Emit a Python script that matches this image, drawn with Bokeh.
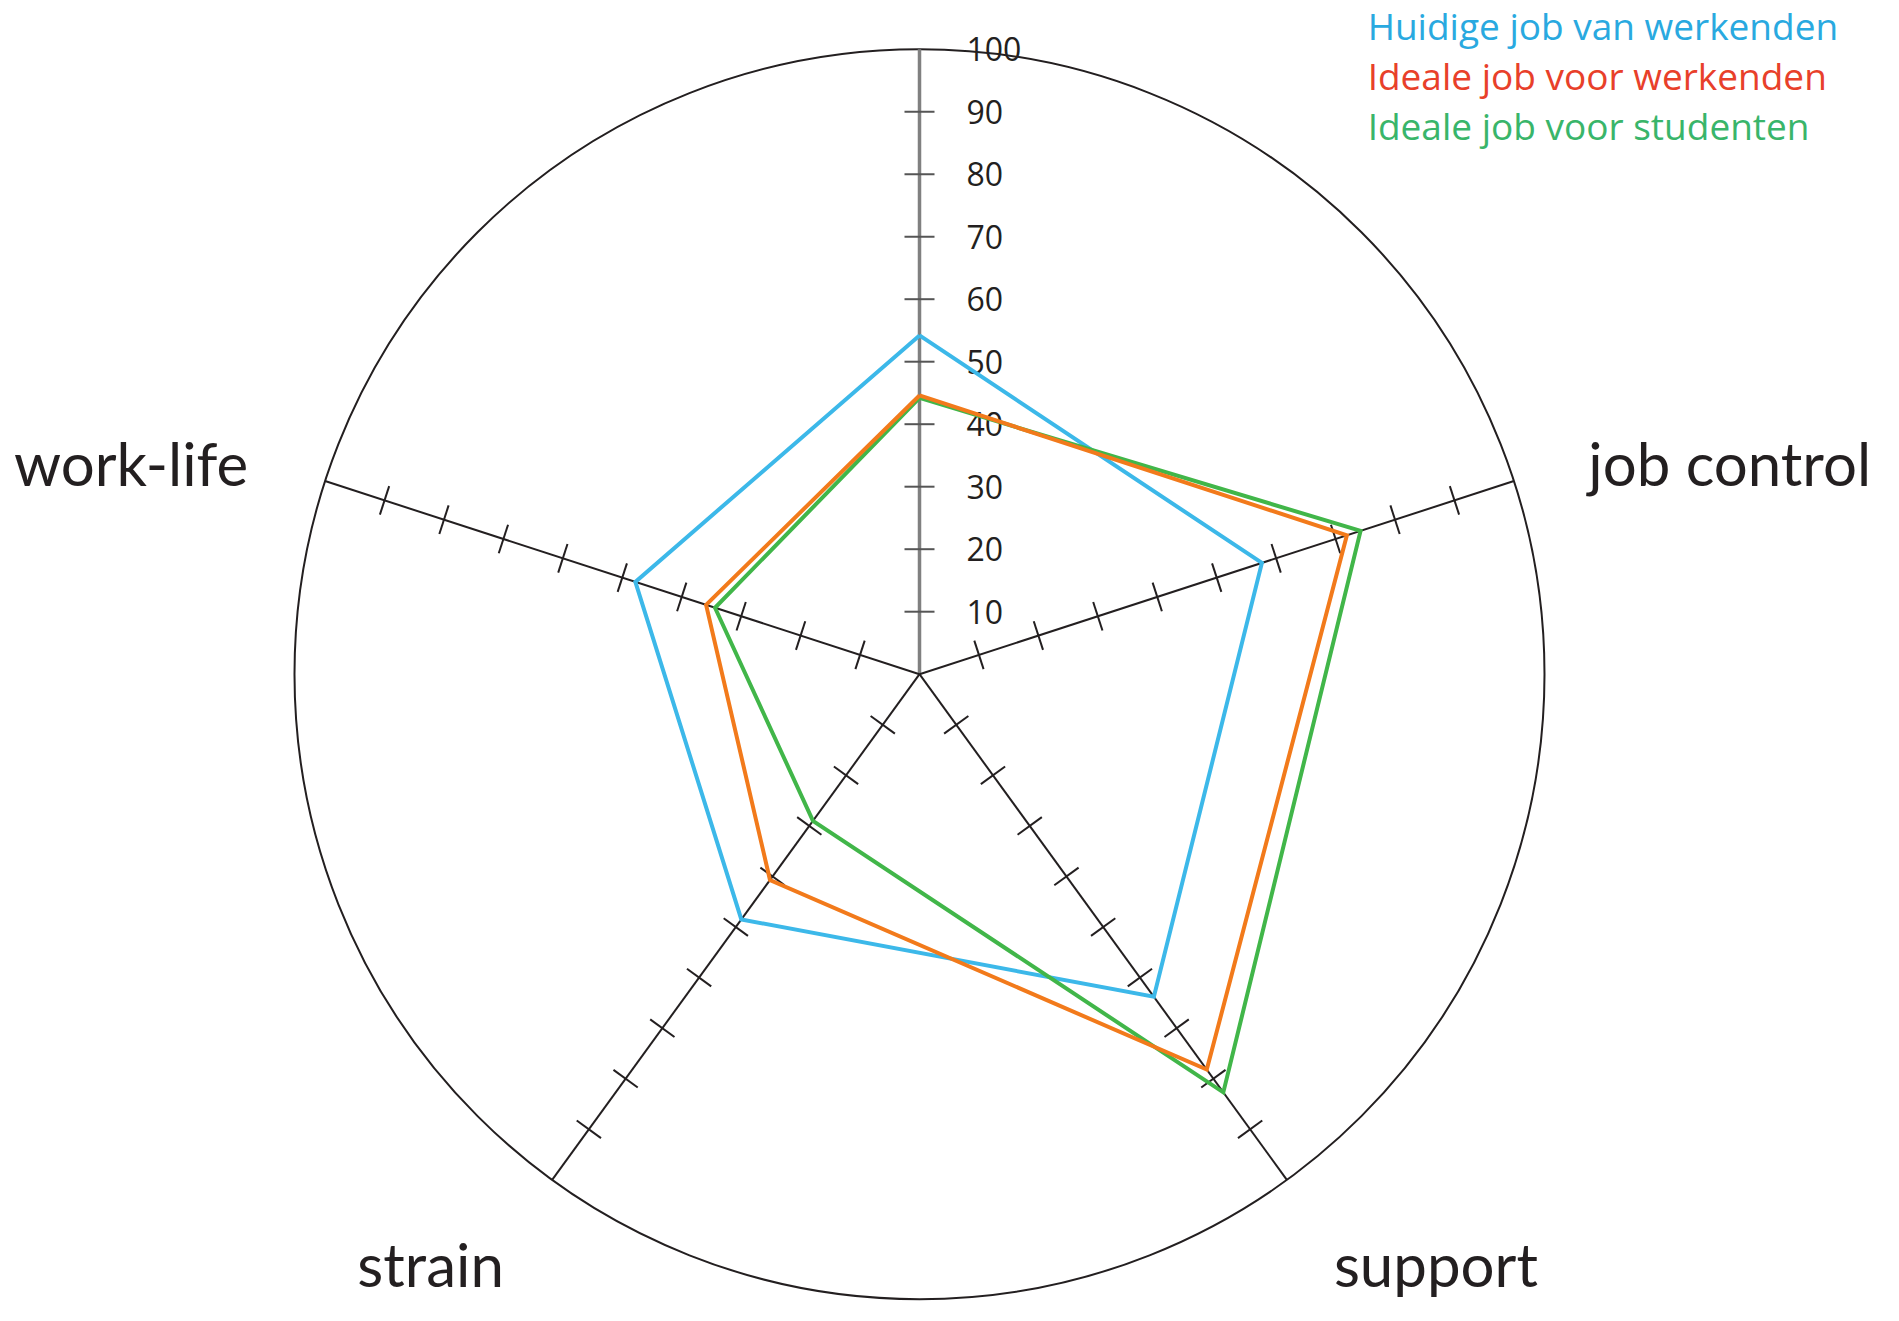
import numpy as np
from bokeh.plotting import figure
from bokeh.models import Range1d
from bokeh.core.properties import value
from bokeh.embed import file_html
from bokeh.resources import INLINE

# ---------------- data ----------------
categories = ["", "job control", "support", "strain", "work-life"]
huidige_werkenden = [54.2, 57.6, 63.8, 48.5, 47.8]
ideale_werkenden = [44.6, 71.9, 78.2, 40.7, 35.9]
ideale_studenten = [44.2, 74.2, 82.7, 29.0, 34.4]
series_names = ["Huidige job van werkenden", "Ideale job voor werkenden", "Ideale job voor studenten"]
tick_values = [10, 20, 30, 40, 50, 60, 70, 80, 90, 100]
tick_labels = ["10", "20", "30", "40", "50", "60", "70", "80", "90", "100"]
max_value = 100

# ---------------- layout ----------------
W, H = 1883, 1305
PX = 6.25                 # pixels per value unit
CX, CY = 919, 673.7       # center in canvas pixels (from top-left)
p = figure(width=W, height=H, output_backend="svg", toolbar_location=None,
           x_range=Range1d(-CX / PX, (W - CX) / PX),
           y_range=Range1d(-(H - CY) / PX, CY / PX),
           min_border=0, outline_line_color=None)
p.axis.visible = False
p.grid.visible = False
p.background_fill_color = "white"

n = len(categories)
theta = np.deg2rad(90 - 72 * np.arange(n))
ux, uy = np.cos(theta), np.sin(theta)

# outer circle
p.circle(x=[0], y=[0], radius=max_value, fill_color=None, line_color="#231F20", line_width=2)

# spokes
for i in range(n):
    col = "#808080" if i == 0 else "#231F20"
    lw = 3.5 if i == 0 else 2
    p.line([0, max_value * ux[i]], [0, max_value * uy[i]], line_color=col, line_width=lw)

# ticks (perpendicular)
half = 15 / PX
tv = np.array(tick_values[:-1], dtype=float)
for i in range(n):
    px_, py_ = -uy[i], ux[i]
    bx, by = tv * ux[i], tv * uy[i]
    col = "#555555" if i == 0 else "#231F20"
    p.segment(x0=bx - half * px_, y0=by - half * py_, x1=bx + half * px_, y1=by + half * py_,
              line_color=col, line_width=2)

# tick labels on the top axis
p.text(x=[47 / PX] * len(tick_values), y=tick_values, text=tick_labels,
       text_font=value("Open Sans"), text_font_size="32px", text_color="#231F20",
       text_baseline="middle", text_align="left")

# data polygons
colors = ["#3CB8E9", "#41B649", "#F27A1B"]
series = [huidige_werkenden, ideale_studenten, ideale_werkenden]
for vals, col in zip(series, colors):
    v = np.array(vals + vals[:1], dtype=float)
    t = np.concatenate([theta, theta[:1]])
    p.line(v * np.cos(t), v * np.sin(t), line_color=col, line_width=4, line_join="miter")

# category labels
lab_x = [0, 107.0, 66.3, -66.5, -107.4]
lab_y = [0, 33.8, -94.4, -94.4, 33.8]
lab_align = ["center", "left", "left", "right", "right"]
for i in range(1, n):
    p.text(x=[lab_x[i]], y=[lab_y[i]], text=[categories[i]],
           text_font=value("Lato"), text_font_size="60px", text_color="#231F20",
           text_baseline="alphabetic", text_align=lab_align[i])

# legend
leg_colors = ["#29A9E0", "#E8402A", "#39B56A"]
leg_y = [103.8, 95.8, 87.8]
for name, col, yy in zip(series_names, leg_colors, leg_y):
    p.text(x=[71.7], y=[yy], text=[name], text_font=value("Open Sans"),
           text_font_size="37px", text_color=col, text_baseline="alphabetic", text_align="left")

open("out.html", "w").write(file_html(p, INLINE))
